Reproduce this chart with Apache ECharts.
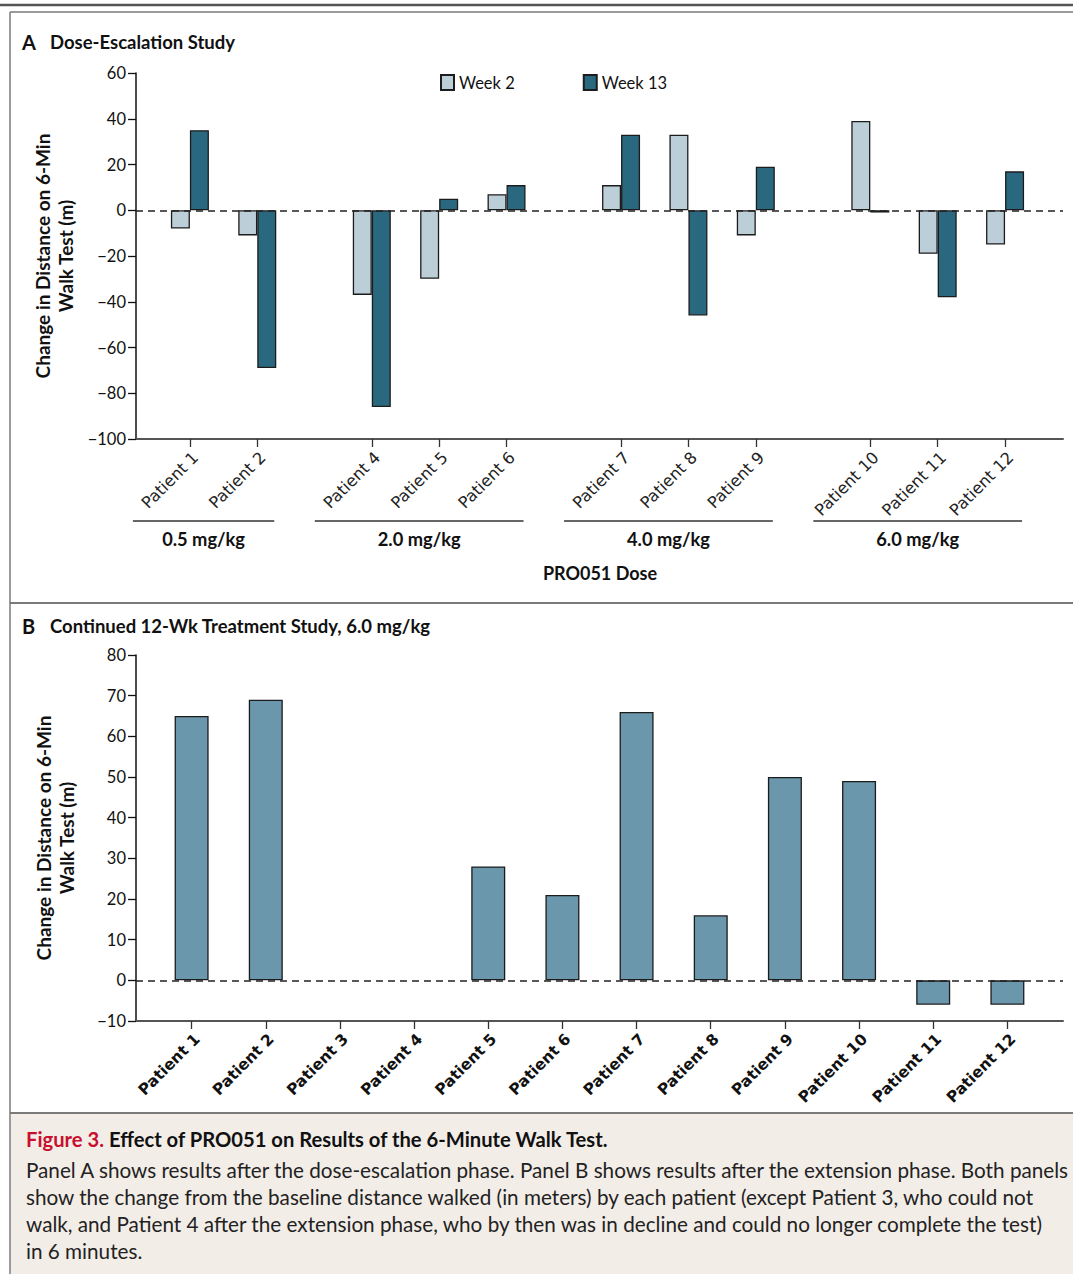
<!DOCTYPE html>
<html><head><meta charset="utf-8">
<script src="https://cdn.jsdelivr.net/npm/echarts@6/dist/echarts.min.js"></script>
<style>html,body{margin:0;padding:0;background:#fff;overflow:hidden}#c{width:1073px;height:1274px}</style>
</head><body><div id="c"></div>
<script>
// ---------- data ----------
const patientsA = ['Patient 1','Patient 2','Patient 4','Patient 5','Patient 6','Patient 7','Patient 8','Patient 9','Patient 10','Patient 11','Patient 12'];
const doseGroupOfA = [0,0,1,1,1,2,2,2,3,3,3];
const doseLabels = ['0.5 mg/kg','2.0 mg/kg','4.0 mg/kg','6.0 mg/kg'];
const week2 = [-8,-11,-37,-30,7,11,33,-11,39,-19,-15];
const week13 = [35,-69,-86,5,11,33,-46,19,-1,-38,17];
const yTicksA = [-100,-80,-60,-40,-20,0,20,40,60];

const patientsB = ['Patient 1','Patient 2','Patient 3','Patient 4','Patient 5','Patient 6','Patient 7','Patient 8','Patient 9','Patient 10','Patient 11','Patient 12'];
const extension = [65,69,null,null,28,21,66,16,50,49,-6,-6];
const yTicksB = [-10,0,10,20,30,40,50,60,70,80];

// ---------- layout helpers ----------
const GROUP_GAP = 0.7; // extra spacing between dose groups (in slot units)
const posA = patientsA.map((p,i)=> i + doseGroupOfA[i]*GROUP_GAP);
const posB = patientsB.map((p,i)=> i);
const FONT = 'Lato, "Open Sans", sans-serif';
const TICKFONT = '"DejaVu Sans", Verdana, sans-serif';
const minus = v => (v < 0 ? '\u2212' + Math.abs(v) : String(v));
const C_W2 = '#bccfd9', C_W13 = '#2a6880', C_B = '#6a97ab', C_EDGE = '#1c1c1c';

const chart = echarts.init(document.getElementById('c'), null, {renderer:'svg'});

const yName = 'Change in Distance on 6-Min\nWalk Test (m)';
const yAxisCommon = {
  type:'value', name:yName, nameLocation:'middle', nameGap:58,
  nameTextStyle:{fontFamily:FONT, fontWeight:'bold', fontSize:19, color:'#111', lineHeight:23},
  axisLine:{show:true, onZero:false, lineStyle:{color:'#111', width:1.5}},
  axisTick:{show:true, inside:false, length:8, lineStyle:{color:'#111', width:1.3}},
  axisLabel:{fontFamily:FONT, fontSize:16.5, color:'#111', margin:10, formatter:minus},
  splitLine:{show:false}
};

const option = {
  animation:false,
  backgroundColor:'#fff',
  legend:{
    data:['Week 2','Week 13'], left:440, top:74, icon:'rect', itemWidth:13, itemHeight:15, itemGap:68, padding:0,
    textStyle:{fontFamily:FONT, fontSize:16.5, color:'#111'}
  },
  grid:[
    {left:136, top:73, width:927, height:366},
    {left:136, top:655, width:927, height:366}
  ],
  xAxis:[
    {type:'value', gridIndex:0, min:-0.8, max:12.96,
     axisLine:{show:true, onZero:false, lineStyle:{color:'#555', width:2}},
     axisTick:{show:true, length:8, customValues:posA, lineStyle:{color:'#333', width:1.3}},
     axisLabel:{customValues:posA, rotate:45, margin:10, verticalAlign:'top', fontFamily:TICKFONT, fontSize:16.3, color:'#222',
       formatter:v=>{const i=posA.findIndex(p=>Math.abs(p-v)<1e-6);return i>=0?patientsA[i]:'';}},
     splitLine:{show:false}},
    {type:'value', gridIndex:1, min:-0.75, max:11.75,
     axisLine:{show:true, onZero:false, lineStyle:{color:'#555', width:2}},
     axisTick:{show:true, length:8, customValues:posB, lineStyle:{color:'#333', width:1.3}},
     axisLabel:{customValues:posB, rotate:45, margin:10, verticalAlign:'top', fontFamily:TICKFONT, fontWeight:'bold', fontSize:15.5, color:'#111',
       formatter:v=>{const i=posB.findIndex(p=>Math.abs(p-v)<1e-6);return i>=0?patientsB[i]:'';}},
     splitLine:{show:false}}
  ],
  yAxis:[
    Object.assign({}, yAxisCommon, {gridIndex:0, min:yTicksA[0], max:yTicksA[yTicksA.length-1], interval:20}),
    Object.assign({}, yAxisCommon, {gridIndex:1, min:yTicksB[0], max:yTicksB[yTicksB.length-1], interval:10})
  ],
  series:[
    {name:'Week 2', type:'bar', xAxisIndex:0, yAxisIndex:0, barWidth:19, barGap:'0%',
     itemStyle:{color:C_W2, borderColor:C_EDGE, borderWidth:1.3},
     data:posA.map((p,i)=>[p, week2[i]])},
    {name:'Week 13', type:'bar', xAxisIndex:0, yAxisIndex:0, barWidth:19, barGap:'0%',
     itemStyle:{color:C_W13, borderColor:C_EDGE, borderWidth:1.3},
     data:posA.map((p,i)=>[p, week13[i]]),
     markLine:{silent:true, symbol:'none', label:{show:false}, z:10,
       lineStyle:{type:[7,5], color:'#222', width:1.5}, data:[{yAxis:0}]}},
    {name:'Extension', type:'bar', xAxisIndex:1, yAxisIndex:1, barWidth:34,
     itemStyle:{color:C_B, borderColor:C_EDGE, borderWidth:1.3},
     data:posB.map((p,i)=>[p, extension[i]]).filter(d=>d[1]!==null),
     markLine:{silent:true, symbol:'none', label:{show:false}, z:10,
       lineStyle:{type:[7,5], color:'#222', width:1.5}, data:[{yAxis:0}]}}
  ]
};
chart.setOption(option);

// ---------- frames, titles, group labels, caption ----------
const g = [];
const frame = '#7a7a7a';
g.push({type:'rect', shape:{x:11, y:1114, width:1062, height:160}, style:{fill:'#f3ede8'}, z:-10});
g.push({type:'line', shape:{x1:0, y1:5, x2:1073, y2:5}, style:{stroke:'#555', lineWidth:2.5}});
g.push({type:'line', shape:{x1:10, y1:12, x2:1073, y2:12}, style:{stroke:frame, lineWidth:1.5}});
g.push({type:'line', shape:{x1:10, y1:12, x2:10, y2:1274}, style:{stroke:frame, lineWidth:1.5}});
g.push({type:'line', shape:{x1:10, y1:603, x2:1073, y2:603}, style:{stroke:frame, lineWidth:2}});
g.push({type:'line', shape:{x1:10, y1:1113, x2:1073, y2:1113}, style:{stroke:frame, lineWidth:2}});

function title(letter, text, y){
  g.push({type:'text', x:22, y:y, style:{text:letter, fontFamily:FONT, fontWeight:'bold', fontSize:20, fill:'#111', verticalAlign:'middle'}});
  g.push({type:'text', x:50, y:y, style:{text:text, fontFamily:FONT, fontWeight:'bold', fontSize:18.5, fill:'#111', verticalAlign:'middle'}});
}
title('A','Dose-Escalation Study',42);
title('B','Continued 12-Wk Treatment Study, 6.0 mg/kg',626);

doseLabels.forEach((lab,gi)=>{
  const idx = doseGroupOfA.map((d,i)=>d===gi?i:-1).filter(i=>i>=0);
  const x0 = chart.convertToPixel({xAxisIndex:0}, posA[idx[0]]) - 57;
  const x1 = chart.convertToPixel({xAxisIndex:0}, posA[idx[idx.length-1]]) + 17;
  g.push({type:'line', shape:{x1:x0, y1:521, x2:x1, y2:521}, style:{stroke:'#333', lineWidth:1.5}});
  g.push({type:'text', x:(x0+x1)/2, y:539, style:{text:lab, fontFamily:FONT, fontWeight:'bold', fontSize:18.3, fill:'#111', align:'center', verticalAlign:'middle'}});
});
g.push({type:'text', x:600, y:573, style:{text:'PRO051 Dose', fontFamily:FONT, fontWeight:'bold', fontSize:18, fill:'#111', align:'center', verticalAlign:'middle'}});

g.push({type:'text', x:26, y:1139, style:{
  text:'{r|Figure 3.\u00a0}{b|Effect of PRO051 on Results of the 6-Minute Walk Test.}',
  verticalAlign:'middle',
  rich:{r:{fontFamily:FONT, fontWeight:'bold', fontSize:20.2, fill:'#c8102e'}, b:{fontFamily:FONT, fontWeight:'bold', fontSize:20.2, fill:'#111'}}
}});
const captionLines = [
  'Panel A shows results after the dose-escalation phase. Panel B shows results after the extension phase. Both panels',
  'show the change from the baseline distance walked (in meters) by each patient (except Patient 3, who could not',
  'walk, and Patient 4 after the extension phase, who by then was in decline and could no longer complete the test)',
  'in 6 minutes.'
];
captionLines.forEach((t,i)=>{
  g.push({type:'text', x:26, y:1170+i*27, style:{text:t, fontFamily:FONT, fontSize:20.7, fill:'#222', verticalAlign:'middle'}});
});
chart.setOption({graphic:g});
</script></body></html>
